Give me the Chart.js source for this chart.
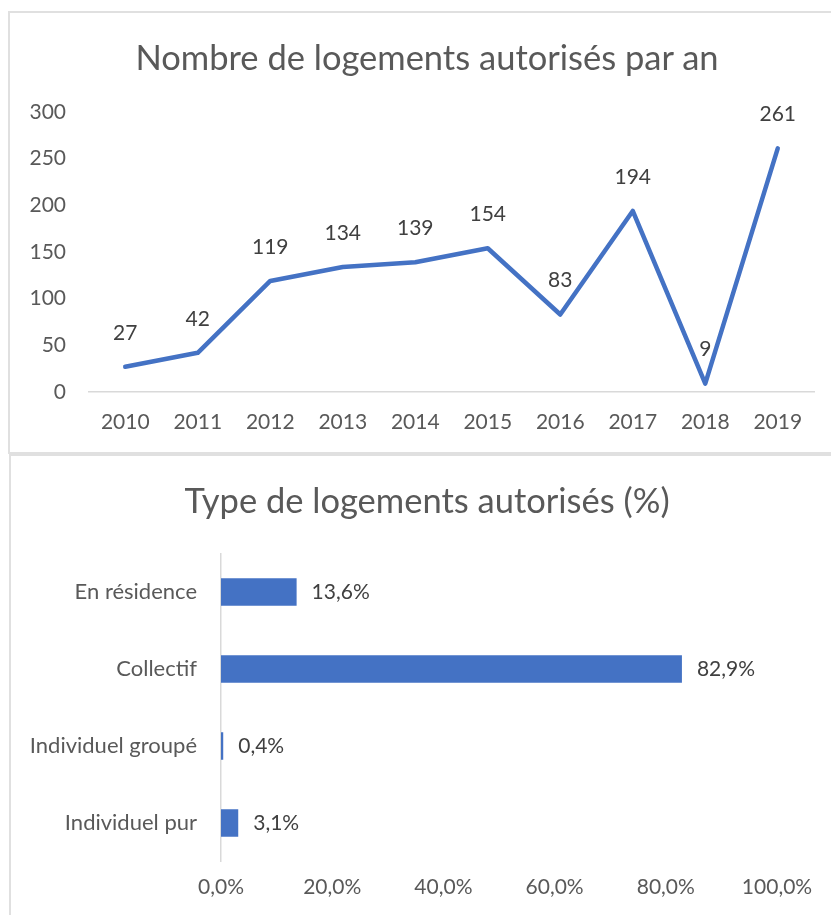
<!DOCTYPE html>
<html lang="fr">
<head>
<meta charset="utf-8">
<title>Logements autorisés</title>
<script src="https://cdn.jsdelivr.net/npm/chart.js@4"></script>
<style>
  html, body { margin: 0; padding: 0; background: #fff; overflow: hidden; }
  body { width: 831px; height: 915px; position: relative; }
  .frame { position: absolute; border: 2px solid #e0e0e0; box-sizing: border-box; }
  .box { position: absolute; left: 0; width: 831px; }
  .ttl { position: absolute; left: 0; width: 854px; text-align: center; white-space: nowrap;
         font: 34.5px/40px Lato, "Open Sans", sans-serif; color: #595959; }
</style>
</head>
<body>
<div class="frame" style="left:8px; top:11px; width:840px; height:443px;"></div>
<div class="frame" style="left:9px; top:454px; width:840px; height:480px;"></div>
<div class="box" style="top:0; height:453px;"><canvas id="lineChart"></canvas></div>
<div class="box" style="top:455px; height:460px;"><canvas id="barChart"></canvas></div>
<div class="ttl" style="top:37px;">Nombre de logements autorisés par an</div>
<div class="ttl" style="top:480px;">Type de logements autorisés (%)</div>
<script>
// --- Data ---
const years = ['2010', '2011', '2012', '2013', '2014', '2015', '2016', '2017', '2018', '2019'];
const logements = [27, 42, 119, 134, 139, 154, 83, 194, 9, 261];

const types = ['En résidence', 'Collectif', 'Individuel groupé', 'Individuel pur'];
const typeShares = [13.6, 82.9, 0.4, 3.1];

const FONT = 'Lato, "Open Sans", sans-serif';
const BLUE = '#4472C4';
const TICK_COLOR = '#595959';
const LABEL_COLOR = '#404040';

const pct = v => Number(v).toFixed(1).replace('.', ',') + '%';

// small data label plugin (no datalabels lib available)
const valueLabels = {
  id: 'valueLabels',
  afterDatasetsDraw(chart, args, opts) {
    const ctx = chart.ctx;
    const meta = chart.getDatasetMeta(0);
    const data = chart.data.datasets[0].data;
    ctx.save();
    ctx.font = '21px ' + FONT;
    ctx.fillStyle = LABEL_COLOR;
    ctx.textBaseline = 'middle';
    meta.data.forEach((el, i) => {
      if (opts.mode === 'bar') {
        ctx.textAlign = 'left';
        ctx.fillText(pct(data[i]), el.x + 15, el.y);
      } else {
        ctx.textAlign = 'center';
        ctx.fillText(String(data[i]), el.x, el.y - 34);
      }
    });
    ctx.restore();
  }
};

new Chart(document.getElementById('lineChart'), {
  type: 'line',
  data: {
    labels: years,
    datasets: [{
      data: logements,
      borderColor: BLUE,
      borderWidth: 4.5,
      borderCapStyle: 'round',
      borderJoinStyle: 'round',
      pointRadius: 0,
      tension: 0,
      fill: false
    }]
  },
  plugins: [valueLabels],
  options: {
    responsive: true,
    maintainAspectRatio: false,
    animation: false,
    layout: { padding: { left: 0, right: 17, top: 112, bottom: 0 } },
    plugins: {
      legend: { display: false },
      tooltip: { enabled: false },
      title: { display: false },
      valueLabels: { mode: 'line' }
    },
    scales: {
      x: {
        offset: true,
        grid: { display: false, drawTicks: false },
        border: { display: true, color: '#d9d9d9', width: 1.5 },
        ticks: { color: TICK_COLOR, font: { family: FONT, size: 21 }, padding: 18, maxRotation: 0 },
        afterFit: s => { s.height = 61; }
      },
      y: {
        min: 0,
        max: 300,
        grid: { display: false, drawTicks: false },
        border: { display: false },
        ticks: { stepSize: 50, color: TICK_COLOR, font: { family: FONT, size: 21 }, padding: 23 },
        afterFit: s => { s.width = 89; }
      }
    }
  }
});

new Chart(document.getElementById('barChart'), {
  type: 'bar',
  data: {
    labels: types,
    datasets: [{
      data: typeShares,
      backgroundColor: BLUE,
      barPercentage: 0.6,
      categoryPercentage: 0.6
    }]
  },
  plugins: [valueLabels],
  options: {
    indexAxis: 'y',
    responsive: true,
    maintainAspectRatio: false,
    animation: false,
    layout: { padding: { left: 0, right: 54, top: 98.5, bottom: 0 } },
    plugins: {
      legend: { display: false },
      tooltip: { enabled: false },
      title: { display: false },
      valueLabels: { mode: 'bar' }
    },
    scales: {
      x: {
        min: 0,
        max: 100,
        grid: { display: false, drawTicks: false },
        border: { display: false },
        ticks: { stepSize: 20, callback: v => pct(v), color: TICK_COLOR, font: { family: FONT, size: 21 }, padding: 13, maxRotation: 0 },
        afterFit: s => { s.height = 53.5; }
      },
      y: {
        grid: { display: false, drawTicks: false },
        border: { display: true, color: '#d9d9d9', width: 1.5 },
        ticks: { color: TICK_COLOR, font: { family: FONT, size: 22 }, padding: 24 },
        afterFit: s => { s.width = 221; }
      }
    }
  }
});
</script>
</body>
</html>
